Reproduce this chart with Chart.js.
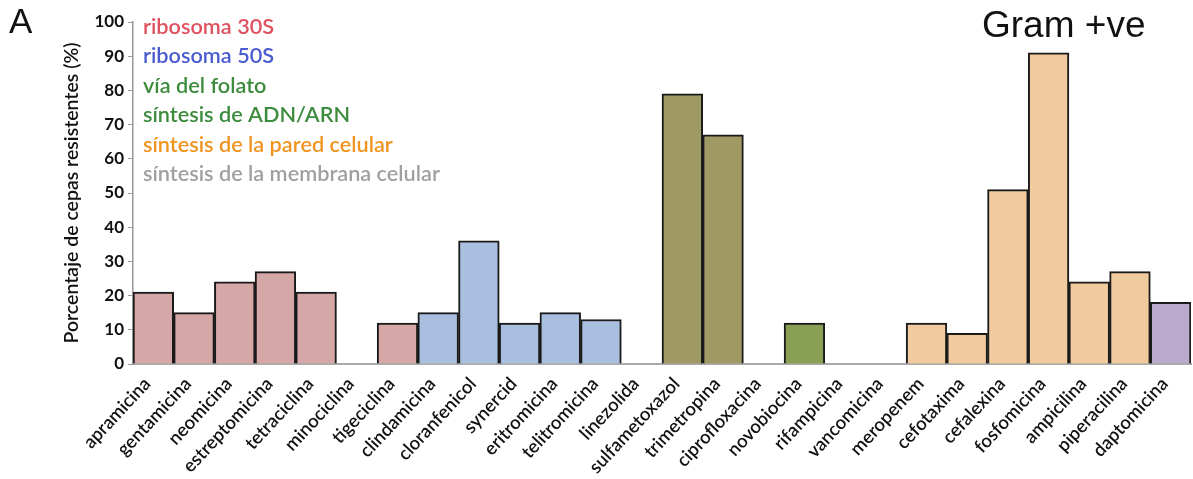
<!DOCTYPE html>
<html>
<head>
<meta charset="utf-8">
<script src="https://cdn.jsdelivr.net/npm/chart.js@4.4.1/dist/chart.umd.min.js"></script>
<style>
  html, body { margin: 0; padding: 0; background: #fff; }
  #wrap { position: relative; width: 1193px; height: 479px; }
</style>
</head>
<body>
<div id="wrap"><canvas id="chart" width="1193" height="479"></canvas></div>
<script>
// categories (antibiotics) and % resistant strains
const antibiotics = [
  'apramicina', 'gentamicina', 'neomicina', 'estreptomicina', 'tetraciclina',
  'minociclina', 'tigeciclina', 'clindamicina', 'cloranfenicol', 'synercid',
  'eritromicina', 'telitromicina', 'linezolida', 'sulfametoxazol', 'trimetropina',
  'ciprofloxacina', 'novobiocina', 'rifampicina', 'vancomicina', 'meropenem',
  'cefotaxima', 'cefalexina', 'fosfomicina', 'ampicilina', 'piperacilina', 'daptomicina'
];
const resistant = [21, 15, 24, 27, 21, 0, 12, 15, 36, 12, 15, 13, 0, 79, 67, 0, 12, 0, 0, 12, 9, 51, 91, 24, 27, 18];
// target group of each antibiotic (index into groupNames)
const groupOf = [0, 0, 0, 0, 0, 0, 0, 1, 1, 1, 1, 1, 1, 2, 2, 3, 3, 3, 4, 4, 4, 4, 4, 4, 4, 5];
const groupNames = [
  'ribosoma 30S', 'ribosoma 50S', 'vía del folato',
  'síntesis de ADN/ARN', 'síntesis de la pared celular', 'síntesis de la membrana celular'
];
const yTicks = [0, 10, 20, 30, 40, 50, 60, 70, 80, 90, 100];

const barColors = ['#d5a7a6', '#a9bfdf', '#9f9a64', '#89a054', '#f1ca9d', '#b9aacd'];
const textColors = ['#e0515f', '#4a5bd0', '#3d8b3d', '#3d8b3d', '#f0941f', '#a0a0a0'];

const overlay = {
  id: 'overlay',
  afterDraw(chart) {
    const ctx = chart.ctx;
    ctx.save();
    ctx.textBaseline = 'middle';
    ctx.textAlign = 'left';
    ctx.font = '600 21.7px Lato';
    groupNames.forEach((name, i) => {
      ctx.fillStyle = textColors[i];
      ctx.fillText(name, 143, 27 + i * 29.4);
    });
    ctx.fillStyle = '#111';
    ctx.font = '35px "Liberation Sans"';
    ctx.fillText('A', 9, 23);
    ctx.font = '37px "Liberation Sans"';
    ctx.fillText('Gram +ve', 982, 27);
    ctx.restore();
  }
};

new Chart(document.getElementById('chart'), {
  type: 'bar',
  data: {
    labels: antibiotics,
    datasets: [{
      data: resistant,
      backgroundColor: groupOf.map(g => barColors[g]),
      borderColor: '#1a1a1a',
      borderWidth: 2,
      borderSkipped: 'bottom',
      categoryPercentage: 1,
      barPercentage: 1
    }]
  },
  options: {
    responsive: false,
    animation: false,
    layout: { padding: { left: 58, right: 2, top: 22, bottom: 0 } },
    plugins: { legend: { display: false }, tooltip: { enabled: false } },
    scales: {
      x: {
        grid: { display: false },
        border: { color: '#aaa', width: 2 },
        ticks: {
          color: '#111',
          font: { family: 'Lato', size: 18.5, weight: '600' },
          minRotation: 47,
          maxRotation: 47,
          autoSkip: false,
          labelOffset: -6,
          padding: 1
        },
        afterFit(scale) { scale.height = 115; }
      },
      y: {
        min: 0,
        max: 100,
        afterBuildTicks(scale) { scale.ticks = yTicks.map(v => ({ value: v })); },
        grid: { drawOnChartArea: false, tickLength: 5, color: '#999' },
        border: { color: '#999', width: 1.5 },
        ticks: {
          color: '#111',
          font: { family: 'Lato', size: 17, weight: 'bold' },
          padding: 4
        },
        title: {
          display: true,
          text: 'Porcentaje de cepas resistentes (%)',
          color: '#111',
          font: { family: 'Lato', size: 19.5, weight: '600' },
          padding: { top: 2, bottom: 0 }
        },
        afterFit(scale) { scale.width = 75; }
      }
    }
  },
  plugins: [overlay]
});
</script>
</body>
</html>
